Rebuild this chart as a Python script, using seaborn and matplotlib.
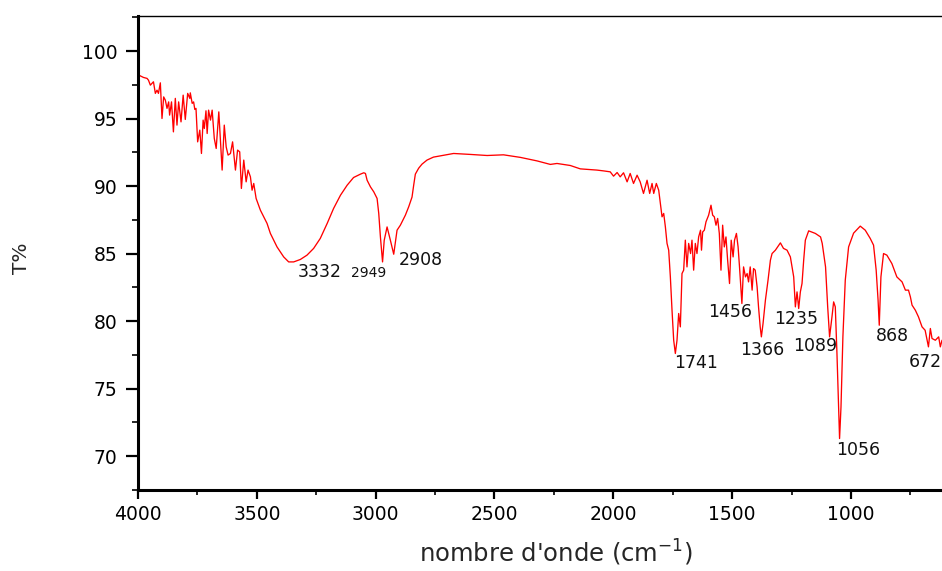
import matplotlib
matplotlib.use("Agg")
import matplotlib.pyplot as plt
from matplotlib.ticker import MultipleLocator
import seaborn as sns
import pandas as pd

# ---------------- data ----------------
wavenumber = [
    4000, 3977, 3962, 3956, 3948, 3941, 3935, 3927, 3920, 3914, 3906, 3899, 3892, 3885,
    3878, 3871, 3867, 3859, 3851, 3843, 3836, 3829, 3819, 3810, 3801, 3791, 3782, 3780,
    3772, 3766, 3761, 3756, 3749, 3740, 3733, 3726, 3721, 3714, 3709, 3703, 3695, 3688,
    3679, 3671, 3660, 3646, 3637, 3629, 3621, 3611, 3602, 3590, 3581, 3572, 3565, 3555,
    3545, 3537, 3527, 3520, 3513, 3503, 3485, 3471, 3457, 3443, 3429, 3415, 3401, 3387,
    3366, 3345, 3317, 3289, 3261, 3233, 3204, 3177, 3148, 3120, 3093, 3064, 3050, 3043,
    3036, 3022, 3008, 2994, 2987, 2980, 2971, 2964, 2952, 2938, 2924, 2910, 2896, 2875,
    2861, 2847, 2840, 2833, 2819, 2805, 2784, 2757, 2728, 2672, 2602, 2531, 2462, 2391,
    2321, 2265, 2237, 2181, 2139, 2069, 2041, 2013, 1999, 1984, 1971, 1957, 1942, 1929,
    1915, 1900, 1887, 1873, 1858, 1847, 1837, 1830, 1819, 1809, 1802, 1795, 1788, 1781,
    1774, 1767, 1760, 1753, 1746, 1739, 1732, 1725, 1718, 1711, 1704, 1697, 1690, 1683,
    1675, 1669, 1662, 1655, 1648, 1641, 1633, 1629, 1624, 1617, 1610, 1599, 1589, 1582,
    1575, 1568, 1561, 1554, 1547, 1540, 1533, 1526, 1519, 1511, 1504, 1496, 1490, 1482,
    1475, 1469, 1459, 1452, 1444, 1437, 1431, 1424, 1416, 1410, 1403, 1395, 1389, 1382,
    1377, 1370, 1360, 1349, 1339, 1332, 1318, 1297, 1284, 1269, 1255, 1241, 1234, 1227,
    1220, 1213, 1206, 1199, 1192, 1178, 1150, 1128, 1121, 1107, 1098, 1090, 1080, 1073,
    1066, 1059, 1052, 1048, 1042, 1034, 1024, 1010, 989, 961, 940, 919, 905, 894,
    886, 881, 874, 863, 849, 828, 807, 785, 771, 758, 750, 743, 729, 716,
    701, 688, 674, 666, 659, 645, 631, 624, 617,
]
transmittance = [
    98.25, 98.05, 97.98, 97.85, 97.48, 97.61, 97.73, 96.87, 97.11, 96.87, 97.65, 95.01, 96.61, 96.37,
    95.76, 96.24, 95.26, 96.24, 94.02, 96.50, 94.52, 96.24, 94.76, 96.74, 94.94, 96.87, 96.50, 96.91,
    96.13, 96.24, 95.68, 95.76, 93.28, 94.15, 92.42, 94.89, 94.27, 95.58, 93.90, 95.63, 94.89, 95.63,
    93.53, 92.79, 95.50, 91.19, 94.52, 92.91, 92.30, 92.42, 93.28, 91.19, 92.67, 92.54, 89.83, 91.93,
    90.32, 91.19, 90.69, 89.70, 90.20, 89.09, 88.22, 87.73, 87.24, 86.50, 86.00, 85.50, 85.13, 84.76,
    84.39, 84.39, 84.57, 84.89, 85.39, 86.13, 87.24, 88.35, 89.33, 90.07, 90.64, 90.89, 90.99, 90.94,
    90.44, 89.95, 89.58, 89.09, 87.98, 86.24, 84.39, 85.99, 86.98, 85.99, 84.96, 86.74, 87.11, 87.85,
    88.47, 89.19, 90.07, 90.89, 91.33, 91.63, 91.93, 92.15, 92.24, 92.42, 92.35, 92.27, 92.32, 92.13,
    91.87, 91.61, 91.68, 91.53, 91.28, 91.19, 91.13, 91.06, 90.74, 91.01, 90.69, 90.99, 90.32, 90.94,
    90.20, 90.81, 90.32, 89.46, 90.44, 89.46, 90.20, 89.46, 90.20, 89.70, 88.72, 87.73, 87.98, 86.99,
    85.76, 85.26, 83.28, 80.81, 78.59, 77.61, 78.59, 80.57, 79.58, 83.53, 83.78, 86.00, 84.02, 85.76,
    85.01, 86.00, 83.78, 85.76, 85.01, 86.24, 86.74, 85.26, 86.61, 86.74, 87.36, 87.85, 88.59, 87.85,
    87.73, 87.11, 87.61, 86.50, 83.78, 87.11, 85.50, 86.24, 84.52, 82.79, 86.00, 84.76, 86.00, 86.50,
    85.50, 84.02, 81.31, 84.02, 83.28, 83.53, 82.91, 84.02, 82.30, 83.90, 83.78, 82.54, 81.06, 79.58,
    78.84, 79.83, 81.56, 83.04, 84.52, 85.01, 85.26, 85.80, 85.39, 85.26, 84.76, 83.28, 81.06, 82.17,
    80.94, 82.17, 82.79, 84.52, 86.00, 86.69, 86.50, 86.24, 85.76, 84.02, 81.06, 78.84, 80.32, 81.43,
    81.06, 77.61, 73.65, 71.31, 73.65, 78.84, 83.04, 85.50, 86.52, 87.04, 86.74, 86.13, 85.63, 83.78,
    81.56, 79.70, 83.28, 85.01, 84.89, 84.27, 83.28, 82.91, 82.30, 82.30, 81.80, 81.19, 80.81, 80.32,
    79.58, 79.33, 78.10, 79.46, 78.72, 78.59, 78.84, 78.10, 78.59,
]

peak_labels = ["3332", "2949", "2908", "1741", "1456", "1366", "1235", "1089", "1056", "868", "672"]
label_x = [3329, 3103, 2904, 1743, 1599, 1466, 1323, 1242, 1062, 894, 758]
label_y = [83.63, 83.55, 84.52, 76.89, 80.70, 77.85, 80.15, 78.15, 70.44, 78.89, 76.96]
label_size = [12.5, 10, 12.5, 12.5, 12.5, 12.5, 12.5, 12.5, 12.5, 12.5, 12.5]

df = pd.DataFrame({"wn": wavenumber, "T": transmittance})

# ---------------- style ----------------
sns.set_style("ticks")
plt.rcParams["font.family"] = ["DejaVu Sans"]
plt.rcParams["mathtext.fontset"] = "dejavusans"

fig = plt.figure(figsize=(9.42, 5.71), dpi=100)
ax = fig.add_axes([138 / 942, 81 / 571, 804 / 942, 474 / 571])

sns.lineplot(data=df, x="wn", y="T", sort=False, estimator=None,
             color="#ff0000", linewidth=0.95, ax=ax)

ax.set_xlim(4000, 617)
ax.set_ylim(67.5, 102.6)

ax.xaxis.set_major_locator(MultipleLocator(500))
ax.xaxis.set_minor_locator(MultipleLocator(250))
ax.yaxis.set_major_locator(MultipleLocator(5))
ax.yaxis.set_minor_locator(MultipleLocator(2.5))

ax.tick_params(axis="y", which="major", direction="out", length=8.5, width=1.6,
               labelsize=13.5, pad=6.5, colors="black")
ax.tick_params(axis="y", which="minor", direction="out", length=4.3, width=1.4)
ax.tick_params(axis="x", which="major", direction="out", length=6.5, width=1.6,
               labelsize=13.5, pad=4, colors="black")
ax.tick_params(axis="x", which="minor", direction="out", length=3.8, width=1.4)

for side in ("left", "bottom"):
    ax.spines[side].set_linewidth(2.2)
    ax.spines[side].set_color("black")
ax.spines["top"].set_visible(True)
ax.spines["top"].set_linewidth(1.0)
ax.spines["top"].set_color("black")
ax.spines["right"].set_visible(False)

ax.set_xlabel("nombre d'onde (cm$^{-1}$)", fontsize=17.5)
ax.set_ylabel("T%", fontsize=14.5)
ax.xaxis.set_label_coords((556 - 138) / 804, -(553 - 490) / 474)
ax.xaxis.label.set_va("center")
ax.yaxis.set_label_coords((22 - 138) / 804, (490 - 258) / 474)
ax.yaxis.label.set_va("center")

for txt, x, y, s in zip(peak_labels, label_x, label_y, label_size):
    ax.text(x, y, txt, ha="left", va="center", fontsize=s, color="#111111",
            clip_on=False)

fig.savefig("out.png", dpi=100)
